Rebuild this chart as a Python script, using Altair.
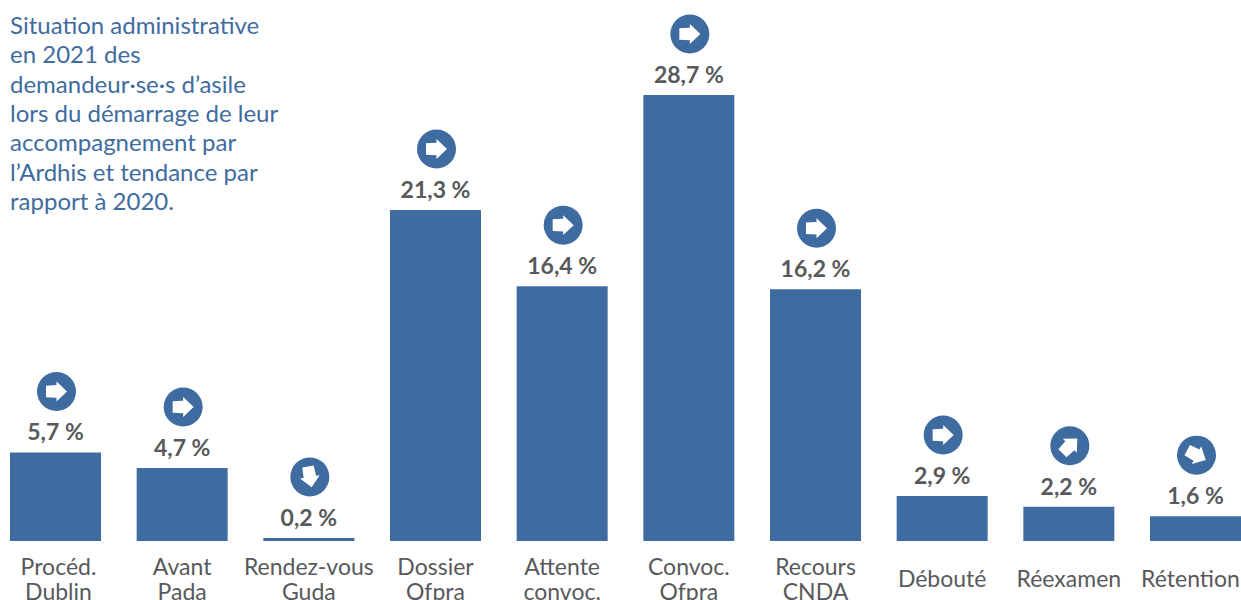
import altair as alt
import pandas as pd

categories = ["Procéd.\nDublin", "Avant\nPada", "Rendez-vous\nGuda", "Dossier\nOfpra",
              "Attente\nconvoc.", "Convoc.\nOfpra", "Recours\nCNDA", "Débouté",
              "Réexamen", "Rétention"]
shares = [5.7, 4.7, 0.2, 21.3, 16.4, 28.7, 16.2, 2.9, 2.2, 1.6]
trends = ["stable", "stable", "baisse", "stable", "stable", "stable", "stable",
          "stable", "hausse", "repli"]
title_lines = ["Situation administrative", "en 2021 des", "demandeur·se·s d’asile",
               "lors du démarrage de leur", "accompagnement par",
               "l’Ardhis et tendance par", "rapport à 2020."]

BLUE = "#3e6ca0"
GREY = "#58595b"
FONT = "Lato"

# Rotation of the arrow glyph, clockwise from pointing right
trend_angles = {"stable": 0, "hausse": 315, "baisse": 80, "repli": 28}
ARROW = "M -1 -0.55 L 0 -0.6 L 0 -0.95 L 1 0 L 0 0.95 L 0 0.6 L -1 0.55 Z"

df = pd.DataFrame({"cat": categories, "share": shares, "trend": trends})
df["angle"] = df["trend"].map(trend_angles)
df["label"] = df["share"].map(lambda v: f"{v:.1f}".replace(".", ",") + " %")

# Two-line labels start higher so that every label stays centred on the same row
label_padding = {"condition": {"test": "indexof(datum.value, '\\n') >= 0", "value": 26}, "value": 38}
# The outer labels are nudged so the last one stays inside the page
label_offset = {"condition": [{"test": "datum.value == 'Rétention'", "value": -5},
                              {"test": "indexof(datum.value, 'Dublin') >= 0", "value": 3}],
                "value": 0}

x = alt.X(
    "cat:N", sort=categories, title=None,
    scale=alt.Scale(paddingInner=0.2816, paddingOuter=0),
    axis=alt.Axis(domain=False, ticks=False, labelAngle=0, labelPadding=label_padding,
                  labelOffset=label_offset,
                  labelBaseline="middle", labelFont=FONT, labelFontSize=23,
                  labelColor=GREY, labelLineHeight=25, labelLimit=0,
                  labelOverlap=False, labelExpr="split(datum.label, '\\n')"),
)
y = alt.Y("share:Q", title=None, axis=None, scale=alt.Scale(domain=[0, 28.7], nice=False, zero=True))

base = alt.Chart(df).encode(x=x, y=y)

bars = base.mark_bar(color=BLUE, size=91)
values = base.mark_text(baseline="middle", dy=-19, font=FONT, fontSize=23,
                        fontWeight="bold", color=GREY).encode(text="label:N")
badges = base.mark_point(shape="circle", filled=True, fill=BLUE, opacity=1, size=1521,
                         yOffset=-61, xOffset=1).encode()
arrows = base.mark_point(shape=ARROW, filled=True, fill="white", opacity=1, size=441,
                         yOffset=-61, xOffset=1).encode(angle=alt.Angle("angle:Q", scale=None))

heading = alt.Chart(pd.DataFrame({"t": ["\n".join(title_lines)]})).mark_text(
    lineBreak="\n", align="left", baseline="top", font=FONT, fontSize=24,
    lineHeight=29.3, color=BLUE,
).encode(x=alt.value(0), y=alt.value(-80), text="t:N")

chart = (bars + values + badges + arrows + heading).properties(
    width=1231, height=446,
    padding={"left": 10, "right": 0, "top": 95, "bottom": 59},
    autosize=alt.AutoSizeParams(type="none"),
    background="white",
).configure_view(stroke="transparent", strokeWidth=0)

chart.save("out.html", embed_options={"renderer": "svg", "actions": False})
